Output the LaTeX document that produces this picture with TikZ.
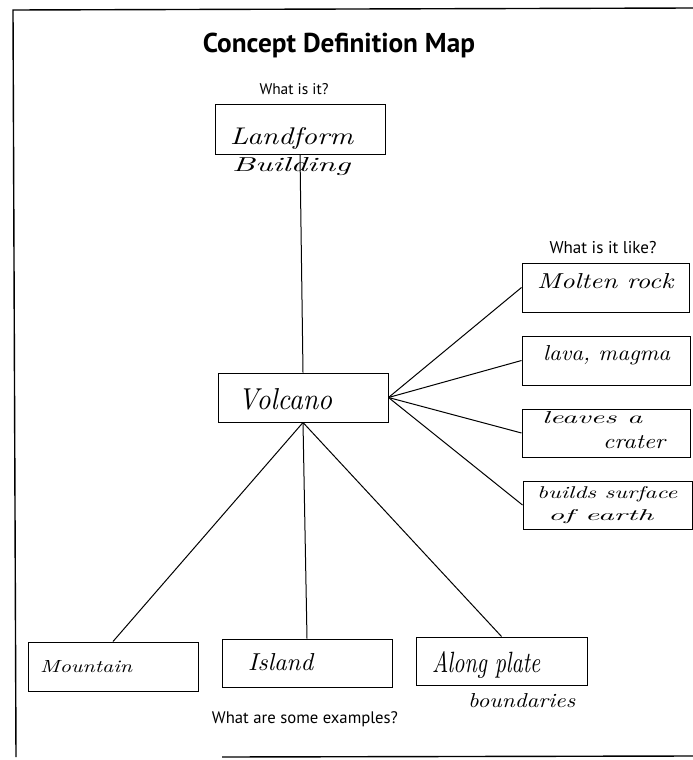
\documentclass[tikz,border=0pt]{standalone}
\usepackage{fontspec}
\usepackage{graphicx}
\newfontfamily\labfont{PT Sans}
\newcommand{\hw}[3]{\resizebox{#1pt}{#2pt}{\itshape #3}}
\newcommand{\lab}[2]{\resizebox{#1pt}{!}{\labfont #2}}
\begin{document}
\begin{tikzpicture}[x=1pt,y=-1pt,
  box/.style={draw, line width=1pt, inner sep=0pt, minimum width=170pt, minimum height=48pt},
  conn/.style={line width=1pt},
  frame/.style={line width=1.4pt},
  hand/.style={anchor=base west, inner sep=0pt},
  qlabel/.style={anchor=base, inner sep=0pt}]
\useasboundingbox (0,0) rectangle (693,760);
% frame
\coordinate (f1) at (693,8);
\coordinate (f2) at (13,10);
\coordinate (f3) at (16,757);
\coordinate (f4) at (222,757);
\coordinate (f5) at (693,756);
\draw[frame] (f1) -- (f2) -- (f3);
\draw[frame] (f4) -- (f5);
% title and questions
\node[qlabel] (title) at (339,53) {\resizebox{272pt}{!}{\labfont\bfseries Concept Definition Map}};
\node[qlabel] (q1) at (294,95) {\lab{69}{What is it?}};
\node[qlabel] (q2) at (603,253) {\lab{107}{What is it like?}};
\node[qlabel] (q3) at (305,723) {\lab{186}{What are some examples?}};
% boxes
\node[box, minimum width=170pt, minimum height=50pt] (landform) at (300,129) {};
\node[box, minimum width=170pt, minimum height=49pt] (volcano) at (303,397.5) {};
\node[box, minimum width=167pt, minimum height=49pt] (molten) at (605.5,287.5) {};
\node[box, minimum width=168pt, minimum height=49pt] (lava) at (606,360.5) {};
\node[box, minimum width=168pt, minimum height=48pt] (leaves) at (606,433) {};
\node[box, minimum width=169pt, minimum height=48pt] (builds) at (607.5,505) {};
\node[box, minimum width=170pt, minimum height=49pt] (mountain) at (113,666.5) {};
\node[box, minimum width=170pt, minimum height=48pt] (island) at (307,663) {};
\node[box, minimum width=171pt, minimum height=48pt] (along) at (501.5,661) {};
% handwriting
\node[hand] (t1) at (230,144) {\hw{123}{17}{Landform}};
\node[hand] (t2) at (232,171) {\hw{118}{14}{Building}};
\node[hand] (t3) at (238,409) {\hw{94}{21}{Volcano}};
\node[hand] (t4) at (537,288) {\hw{136}{15}{Molten rock}};
\node[hand] (t5) at (543,360) {\hw{127}{15}{lava, magma}};
\node[hand] (t6) at (542,423) {\hw{100}{12}{leaves a}};
\node[hand] (t7) at (603,448) {\hw{62}{13}{crater}};
\node[hand] (t8) at (537,498) {\hw{140}{12}{builds surface}};
\node[hand] (t9) at (548,520) {\hw{105}{11}{of earth}};
\node[hand] (t10) at (40,672) {\hw{92}{12}{Mountain}};
\node[hand] (t11) at (248,670) {\hw{65}{17}{Island}};
\node[hand] (t12) at (432,672) {\hw{108}{21}{Along plate}};
\node[hand] (t13) at (468,707) {\hw{107}{14}{boundaries}};
% connectors
\draw[conn] (landform.south) -- (volcano.north);
\draw[conn] (volcano.east) -- (molten.west);
\draw[conn] (volcano.east) -- (lava.west);
\draw[conn] (volcano.east) -- (leaves.west);
\draw[conn] (volcano.east) -- (builds.west);
\draw[conn] (volcano.south) -- (mountain.north);
\draw[conn] (volcano.south) -- (island.north);
\draw[conn] (volcano.south) -- (along.north);
\end{tikzpicture}
\end{document}
